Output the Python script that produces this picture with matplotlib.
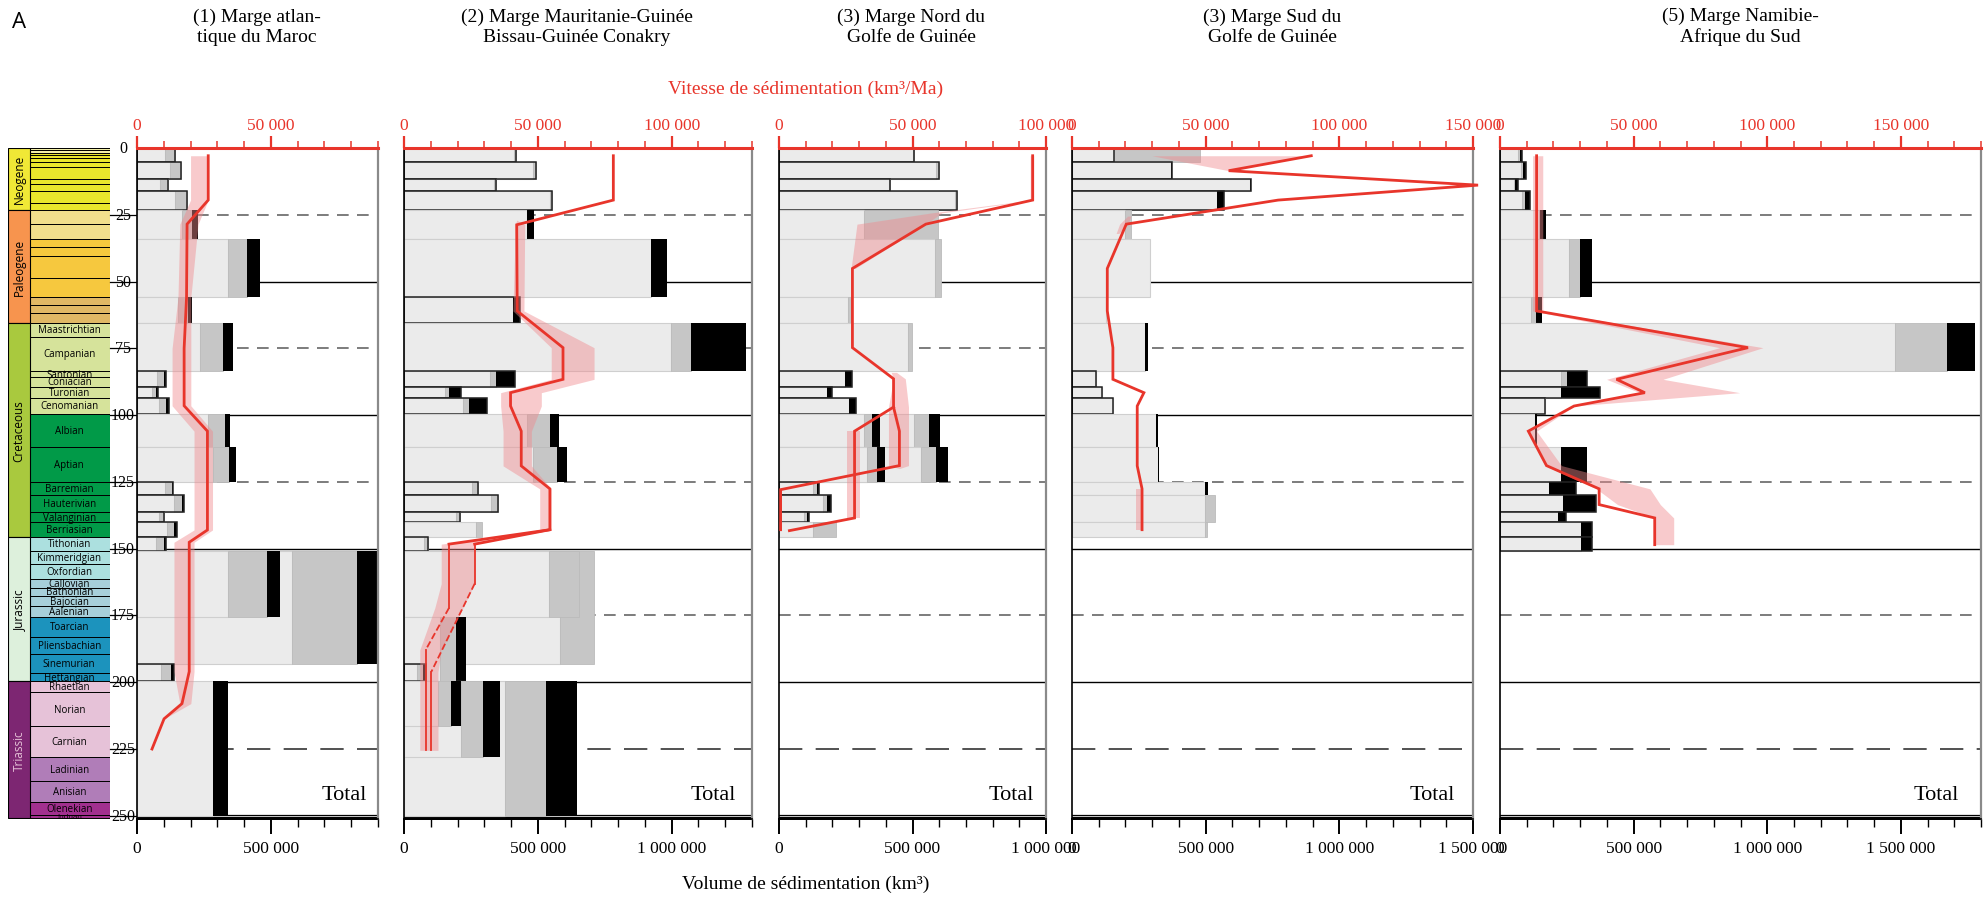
import matplotlib.pyplot as plt
from matplotlib.ticker import MultipleLocator, FixedLocator, FuncFormatter

plt.rcParams['font.family'] = ['Liberation Serif', 'DejaVu Serif']
SANS = ['Open Sans', 'DejaVu Sans']

W, H = 1988, 903
RED = '#e8352b'

# ---- stratigraphic column (GTS 2004 ages, Ma) ----
stage_bounds = [0, 0.0115, 0.126, 0.781, 1.806, 2.588, 3.6, 5.332, 7.246, 11.608, 13.65, 15.97, 20.43, 23.03,
                28.4, 33.9, 37.2, 40.4, 48.6, 55.8, 58.7, 61.7, 65.5,
                70.6, 83.5, 85.8, 89.3, 93.5, 99.6, 112.0, 125.0, 130.0, 136.4, 140.2, 145.5,
                150.8, 155.7, 161.2, 164.7, 167.7, 171.6, 175.6, 183.0, 189.6, 196.5, 199.6,
                203.6, 216.5, 228.0, 237.0, 245.0, 249.7, 251.0]
stage_names = [''] * 13 + [''] * 9 + [
    'Maastrichtian', 'Campanian', 'Santonian', 'Coniacian', 'Turonian', 'Cenomanian',
    'Albian', 'Aptian', 'Barremian', 'Hauterivian', 'Valanginian', 'Berriasian',
    'Tithonian', 'Kimmeridgian', 'Oxfordian', 'Callovian', 'Bathonian', 'Bajocian', 'Aalenian',
    'Toarcian', 'Pliensbachian', 'Sinemurian', 'Hettangian',
    'Rhaetian', 'Norian', 'Carnian', 'Ladinian', 'Anisian', 'Olenekian', 'Induan']
stage_colors = (['#f3f0a8'] * 4 + ['#e9e62c'] * 9
                + ['#f1df8c'] * 2 + ['#f6c83e'] * 4 + ['#e0b865'] * 3
                + ['#d6e39b'] * 6 + ['#019a48'] * 6
                + ['#ace0df'] * 3 + ['#a7cfda'] * 4 + ['#1c93bd'] * 4
                + ['#e6c2d8'] * 3 + ['#b07db8'] * 2 + ['#a2308f'] * 2)
period_names = ['Neogene', 'Paleogene', 'Cretaceous', 'Jurassic', 'Triassic']
period_bounds = [0, 23.03, 65.5, 145.5, 199.6, 251.0]
period_colors = ['#f0e836', '#f7944e', '#a9c93e', '#ddf0dc', '#7d2672']
age_ticks = [0, 25, 50, 75, 100, 125, 150, 175, 200, 225, 250]

# ---- panels ----
titles = ['(1) Marge atlan-\ntique du Maroc',
          '(2) Marge Mauritanie-Guinée\nBissau-Guinée Conakry',
          '(3) Marge Nord du\nGolfe de Guinée',
          '(3) Marge Sud du\nGolfe de Guinée',
          '(5) Marge Namibie-\nAfrique du Sud']
rate_max = [90000, 130000, 100000, 150000, 180000]
vol_ticks = [[0, 500000], [0, 500000, 1000000], [0, 500000, 1000000],
             [0, 500000, 1000000, 1500000], [0, 500000, 1000000, 1500000]]

# bars: (top age, base age, light end, grey end, black end, outlined) in km3/Ma
bars1 = [(0, 5.33, 10600, 14100, 14100, True), (5.33, 11.61, 12500, 16600, 16600, True),
         (11.61, 15.97, 8700, 11500, 11500, True), (15.97, 23.03, 14100, 18700, 18700, True),
         (23.03, 33.9, 16800, 20500, 22900, False), (33.9, 55.8, 33800, 41000, 46100, False),
         (55.8, 65.5, 15300, 19100, 20500, False), (65.5, 83.5, 23700, 32000, 36000, False),
         (83.5, 89.3, 7600, 10000, 10700, True), (89.3, 93.5, 5500, 7200, 8000, True),
         (93.5, 99.6, 8100, 10700, 12000, True), (99.6, 112, 26700, 32900, 34900, False),
         (112, 125, 28200, 34300, 36900, False), (125, 130, 10600, 13100, 13600, True),
         (130, 136.4, 13700, 16800, 17600, True), (136.4, 140.2, 8200, 9900, 10200, True),
         (140.2, 145.5, 11200, 13800, 15100, True), (145.5, 150.8, 7200, 10200, 11000, True),
         (150.8, 193.0, 58000, 82200, 91000, False), (150.8, 175.6, 34000, 48500, 53300, False),
         (193.0, 199.6, 9100, 12800, 13800, True), (199.6, 250.0, 28200, 28200, 33800, False)]
bars2 = [(0, 5.33, 41100, 41700, 41700, True), (5.33, 11.61, 48200, 49400, 49400, True),
         (11.61, 15.97, 33500, 34200, 34200, True), (15.97, 23.03, 54400, 55300, 55300, True),
         (23.03, 33.9, 45800, 45800, 48700, False), (33.9, 55.8, 92100, 92100, 98100, False),
         (55.8, 65.5, 40800, 40800, 43500, True), (65.5, 83.5, 99700, 107100, 127600, False),
         (83.5, 89.3, 32300, 34500, 41300, True), (89.3, 93.5, 15200, 16700, 21400, True),
         (93.5, 99.6, 22000, 24200, 31100, True), (99.6, 112, 45900, 54400, 57800, False),
         (112, 125, 48200, 57100, 60800, False), (125, 130, 25300, 27600, 27600, True),
         (130, 136.4, 32400, 35200, 35200, True), (136.4, 140.2, 19300, 21000, 21000, True),
         (140.2, 145.5, 27000, 29300, 29300, False), (145.5, 150.8, 7400, 9000, 9000, True),
         (150.8, 193.0, 58400, 70800, 70800, False), (150.8, 175.6, 54200, 65400, 65400, False),
         (175.6, 199.6, 13600, 19300, 23300, False), (193.0, 199.6, 5000, 7100, 8100, True),
         (199.6, 250.0, 37900, 52900, 64700, False), (199.6, 228.0, 21200, 29400, 36000, False),
         (199.6, 216.5, 12700, 17400, 21400, False)]
bars3 = [(0, 5.33, 50000, 50600, 50600, True), (5.33, 11.61, 58800, 59800, 59800, True),
         (11.61, 15.97, 41300, 41600, 41600, True), (15.97, 23.03, 66000, 66600, 66600, True),
         (23.03, 33.9, 31800, 59600, 59600, False), (33.9, 55.8, 58500, 60600, 60600, False),
         (55.8, 65.5, 25800, 26800, 26800, False), (65.5, 83.5, 48300, 49800, 49800, False),
         (83.5, 89.3, 24800, 24800, 27500, True), (89.3, 93.5, 18000, 18000, 19800, True),
         (93.5, 99.6, 26100, 26100, 28900, True), (99.6, 112, 50400, 56000, 60300, False),
         (99.6, 112, 31800, 34800, 37900, False), (112, 125, 53100, 58900, 63300, False),
         (112, 125, 33100, 36800, 39800, False), (125, 130, 12900, 14100, 15000, True),
         (130, 136.4, 16400, 18000, 19400, True), (136.4, 140.2, 9500, 10600, 11400, True),
         (140.2, 145.5, 12900, 21300, 21300, False)]
bars4 = [(0, 5.33, 15700, 48000, 48000, False), (0, 5.33, 15700, 15700, 15700, True),
         (5.33, 11.61, 36900, 36900, 37500, True), (11.61, 15.97, 66500, 66500, 67100, True),
         (15.97, 23.03, 54200, 54200, 57000, True), (23.03, 33.9, 20000, 22200, 22200, False),
         (33.9, 55.8, 29100, 29100, 29100, False), (55.8, 65.5, 12800, 12800, 12800, False),
         (65.5, 83.5, 27200, 27200, 28400, False), (83.5, 89.3, 8900, 8900, 8900, True),
         (89.3, 93.5, 11400, 11400, 11400, True), (93.5, 99.6, 15300, 15300, 15300, True),
         (99.6, 112, 31400, 31400, 32200, False), (112, 125, 32000, 32000, 32700, False),
         (125, 130, 49600, 49600, 50900, False), (130, 140.2, 49600, 53600, 53600, False),
         (140.2, 145.5, 49600, 50600, 50600, False)]
bars5 = [(0, 5.33, 6600, 7400, 8100, True), (5.33, 11.61, 7700, 8700, 9700, True),
         (11.61, 15.97, 5200, 5700, 6600, True), (15.97, 23.03, 8400, 9200, 11200, True),
         (23.03, 33.9, 14700, 15000, 17400, False), (33.9, 55.8, 25900, 29900, 34600, False),
         (55.8, 65.5, 11600, 13500, 15600, False), (65.5, 83.5, 147900, 167300, 177600, False),
         (83.5, 89.3, 22700, 25200, 32400, True), (89.3, 93.5, 22800, 22800, 37600, True),
         (93.5, 99.6, 16800, 16800, 16800, True), (99.6, 112, 13100, 13100, 14000, False),
         (112, 125, 22700, 22700, 32400, False), (125, 130, 18300, 18300, 28300, True),
         (130, 136.4, 23400, 23400, 36100, True), (136.4, 140.2, 21600, 21600, 24600, True),
         (140.2, 145.5, 30300, 30300, 34300, True), (145.5, 150.8, 30300, 30300, 34300, True)]

# rate curves: (ages, rates, linestyle, linewidth)
lines1 = [([2.9, 19.5, 28.5, 56, 75, 96.5, 106, 143, 147.6, 196, 208, 213.7, 225],
           [26600, 26600, 18700, 18500, 17600, 17600, 26300, 26300, 19500, 19500, 16800, 10100, 5600], '-', 2.0)]
lines2 = [([2.9, 19.5, 28.75, 61, 74.75, 86.6, 91.6, 96.6, 106, 119, 127.6, 142.9, 148.3],
           [78200, 78200, 42100, 42300, 59400, 59400, 39800, 39800, 43800, 43800, 54500, 54500, 16800], '-', 2.0),
          ([148.3, 172.2], [16800, 16800], '-', 1.3),
          ([172.2, 187.9], [16800, 8100], '--', 1.3), ([187.9, 225.5], [8100, 8100], '-', 1.3),
          ([142.9, 148.3], [54500, 26400], '-', 2.0), ([148.3, 163.1], [26400, 26400], '-', 1.3),
          ([163.1, 196.1], [26400, 10200], '--', 1.3), ([196.1, 225.5], [10200, 10200], '-', 1.3)]
lines3 = [([2.9, 19.5, 28.5, 45.1, 74.75, 86.4, 97, 106, 118.9, 127.9, 142.9],
           [95000, 95000, 55000, 27500, 27500, 42900, 42900, 45100, 45100, 600, 600], '-', 2.0),
          ([97, 106, 138.5, 143.25], [42900, 28300, 28300, 3900], '-', 2.0)]
lines4 = [([2.9, 8.5, 13.9, 19.5, 28.5, 45.1, 61, 74.75, 86.6, 91.6, 96.6, 119, 127.6, 142.9],
           [89500, 58600, 151900, 77100, 20300, 13200, 13200, 15300, 15300, 26900, 24400, 24400, 26200, 26200], '-', 2.0)]
lines5 = [([2.9, 61, 74.75, 86.6, 91.6, 96.6, 106, 118.9, 127.6, 133.5, 138.5, 148.5],
           [13700, 13700, 92800, 43600, 54200, 27700, 10600, 17400, 37100, 37100, 57900, 57900], '-', 2.0)]

# uncertainty bands: (ages, low, high)
bands1 = [([2.9, 19.5, 28.5, 56, 75, 96.5, 106, 143, 147.6, 196, 208, 213.7],
           [20000, 20000, 16000, 15300, 13100, 13100, 21300, 21300, 13800, 13800, 16000, 10100],
           [26600, 26600, 22800, 20100, 20100, 20100, 28200, 28200, 21300, 21300, 20100, 10100])]
bands2 = [([27, 28.75, 61, 74.75, 86.6, 91.6, 96.6, 106, 119, 127.6, 142.9, 148.3, 163.1, 172.2, 187.9, 196.1, 225.5],
           [42100, 41600, 40700, 55000, 55000, 36100, 36100, 37000, 37000, 50700, 50700, 13900, 13900, 11500, 5900, 5900, 5900],
           [42100, 45100, 44800, 71000, 71000, 51300, 51300, 47600, 47600, 55000, 55000, 26400, 26400, 22000, 13900, 12700, 12700])]
bands3 = [([2.9, 19.5, 24.3, 28.5, 45.1], [94100, 94100, 57000, 29200, 27000], [95400, 95400, 61000, 55000, 28500]),
          ([84, 86.4, 97, 106, 118.9, 120], [42000, 42900, 41000, 41000, 41000, 45100],
           [44000, 47300, 48500, 48500, 48500, 45100]),
          ([106, 138.5], [25400, 25400], [30400, 30400])]
bands4 = [([2.9, 8.5], [29900, 58600], [89500, 58600]),
          ([25.5, 28.5, 32], [20800, 17800, 16500], [22000, 21000, 17500]),
          ([127.6, 142.9], [24100, 24100], [26600, 26600])]
bands5 = [([2.9, 61, 74.75, 86.6, 91.6, 96.6, 106, 118.9, 127.6, 133.5, 138.5, 148.5],
           [12200, 12200, 82200, 39900, 52300, 27700, 10600, 16800, 36100, 44000, 57900, 57900],
           [16000, 16000, 98400, 61000, 89700, 27700, 13700, 23000, 56100, 60000, 65000, 65000])]

all_bars = [bars1, bars2, bars3, bars4, bars5]
all_lines = [lines1, lines2, lines3, lines4, lines5]
all_bands = [bands1, bands2, bands3, bands4, bands5]
panel_px = [(137, 378), (404, 752), (779, 1046), (1072, 1473), (1500, 1981)]
title_x = [257, 577, 911, 1272, 1740]

Y_TOP, Y_BOT = 149, 820
AGE_MAX = 251.2

fig = plt.figure(figsize=(W / 100, H / 100), dpi=100)
bottom = 1 - Y_BOT / H
height = (Y_BOT - Y_TOP) / H


def space_fmt(v, p):
    return f'{v:,.0f}'.replace(',', ' ')


# stratigraphic column
ax0 = fig.add_axes([8 / W, bottom, 102 / W, height])
ax0.set_xlim(0, 1)
ax0.set_ylim(AGE_MAX, 0)
ax0.axis('off')
tops = stage_bounds[:-1]
bases = stage_bounds[1:]
ax0.barh([(a + b) / 2 for a, b in zip(tops, bases)], 0.784, left=0.216,
         height=[b - a for a, b in zip(tops, bases)], color=stage_colors,
         edgecolor='black', linewidth=0.7)
for name, a, b in zip(stage_names, tops, bases):
    if name:
        fs = 5.5 if name == 'Induan' else 7
        ax0.text(0.6, (a + b) / 2, name, ha='center', va='center', fontsize=fs, family=SANS)
ptops = period_bounds[:-1]
pbases = period_bounds[1:]
ax0.barh([(a + b) / 2 for a, b in zip(ptops, pbases)], 0.216, left=0,
         height=[b - a for a, b in zip(ptops, pbases)], color=period_colors,
         edgecolor='black', linewidth=0.8)
for name, a, b in zip(period_names, ptops, pbases):
    ax0.text(0.108, (a + b) / 2, name, ha='center', va='center', rotation=90, fontsize=8.5,
             family=SANS, color='#e6c2d8' if name == 'Triassic' else 'black')
tr = ax0.get_yaxis_transform()
for t in age_ticks:
    if t > 0:
        ax0.plot([1.0, 1.265], [t, t], transform=tr, color='black', lw=0.9, clip_on=False)
    ax0.text(1.127, t, str(t), transform=tr, ha='center', va='center', fontsize=11.5, clip_on=False)

# data panels
for i in range(5):
    x0, x1 = panel_px[i]
    ax = fig.add_axes([x0 / W, bottom, (x1 - x0) / W, height])
    ax.set_xlim(0, rate_max[i])
    ax.set_ylim(AGE_MAX, 0)
    ax.set_yticks([])

    for a in [50, 100, 150, 200]:
        ax.axhline(a, color='black', lw=1.0, zorder=0.5)
    for a in [25, 75, 125, 175]:
        ax.axhline(a, color='#666666', lw=1.2, dashes=(7, 5), zorder=0.5)
    ax.axhline(225, color='#333333', lw=1.2, dashes=(14, 8), zorder=0.5)
    ax.axhline(249.8, color='black', lw=0.9, zorder=0.5)
    ax.axhline(250.6, color='black', lw=0.9, zorder=0.5)

    for top, base, light, grey, black, outlined in all_bars[i]:
        c = (top + base) / 2
        h = base - top
        ax.barh(c, light, height=h, color='#ebebeb', edgecolor='#cfcfcf', linewidth=0.8, zorder=2)
        if grey > light:
            ax.barh(c, grey - light, left=light, height=h, color='#c6c6c6',
                    edgecolor='#bbbbbb', linewidth=0.6, zorder=2)
        if black > grey:
            ax.barh(c, black - grey, left=grey, height=h, color='black', linewidth=0, zorder=2)
        if outlined:
            ax.barh(c, black, height=h, fill=False, edgecolor='#222222', linewidth=1.1, zorder=2)

    for ages, lo, hi in all_bands[i]:
        ax.fill_betweenx(ages, lo, hi, color='#f08a8e', alpha=0.45, linewidth=0, zorder=3)
    for ages, rates, ls, lw in all_lines[i]:
        ax.plot(rates, ages, color=RED, lw=lw, ls=ls, zorder=4, clip_on=False,
                solid_joinstyle='miter')

    ax.text(0.955, 242, 'Total', transform=ax.get_yaxis_transform(), ha='right', va='center',
            fontsize=16)

    # top axis: rate
    ax.xaxis.tick_top()
    ax.xaxis.set_major_locator(MultipleLocator(50000))
    ax.xaxis.set_minor_locator(MultipleLocator(10000))
    ax.xaxis.set_major_formatter(FuncFormatter(space_fmt))
    ax.tick_params(axis='x', which='major', colors=RED, length=9, width=1.6, labelsize=12.5, pad=2)
    ax.tick_params(axis='x', which='minor', colors=RED, length=5, width=1.1)
    ax.spines['top'].set_color(RED)
    ax.spines['top'].set_linewidth(2.2)
    ax.spines['left'].set_linewidth(1.2)
    ax.spines['right'].set_color('#8a8a8a')
    ax.spines['right'].set_linewidth(1.6)
    ax.spines['bottom'].set_linewidth(1.2)

    # bottom axis: volume
    sec = ax.secondary_xaxis('bottom', functions=(lambda v: v * 10, lambda v: v / 10))
    sec.xaxis.set_major_locator(FixedLocator(vol_ticks[i]))
    sec.xaxis.set_minor_locator(MultipleLocator(100000))
    sec.xaxis.set_major_formatter(FuncFormatter(space_fmt))
    sec.tick_params(which='major', length=11, width=1.4, labelsize=12.5, pad=4)
    sec.tick_params(which='minor', length=6, width=1.0)
    sec.spines['bottom'].set_linewidth(1.4)

    fig.text(title_x[i] / W, 1 - 27 / H, titles[i], ha='center', va='center', fontsize=14,
             linespacing=1.25)

fig.text(19 / W, 1 - 22 / H, 'A', ha='center', va='center', fontsize=16, family=SANS)
fig.text(806 / W, 1 - 89 / H, 'Vitesse de sédimentation (km³/Ma)', ha='center', va='center',
         fontsize=14, color=RED)
fig.text(806 / W, 1 - 884 / H, 'Volume de sédimentation (km³)', ha='center', va='center',
         fontsize=14)

fig.savefig('out.png', dpi=100)
